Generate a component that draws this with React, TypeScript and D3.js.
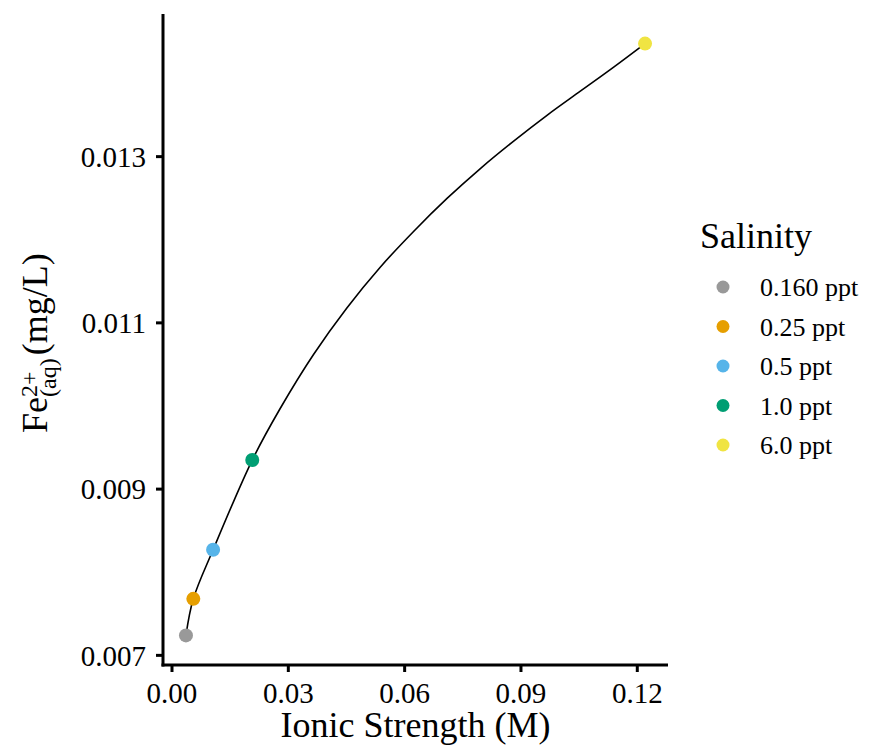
import React from "react";
import * as d3 from "d3";

const salinityLabels = ["0.160 ppt", "0.25 ppt", "0.5 ppt", "1.0 ppt", "6.0 ppt"];
const pointColors = ["#999999", "#E69F00", "#56B4E9", "#009E73", "#F0E442"];
const ionicStrength = [0.0036, 0.0055, 0.0106, 0.0207, 0.122];
const feValues = [0.00724, 0.00768, 0.00827, 0.00935, 0.01436];

const curveI = [0.0036, 0.0055, 0.0106, 0.0207, 0.0279, 0.0365, 0.0451, 0.0537, 0.0623, 0.071, 0.0796, 0.0882, 0.0968, 0.1054, 0.114, 0.122];
const curveFe = [0.00724, 0.00768, 0.00827, 0.00935, 0.00997, 0.01062, 0.01118, 0.01167, 0.0121, 0.0125, 0.01286, 0.01319, 0.0135, 0.01379, 0.01408, 0.01436];

const xTicks = [0, 0.03, 0.06, 0.09, 0.12];
const yTicks = [0.007, 0.009, 0.011, 0.013];

const FONT = "'Liberation Serif', 'Times New Roman', serif";

export default function App() {
  const left = 163, right = 668, top = 14, bottom = 665;
  const [xmin, xmax] = d3.extent(ionicStrength) as [number, number];
  const [ymin, ymax] = d3.extent(feValues) as [number, number];
  const xe = (xmax - xmin) * 0.05;
  const ye = (ymax - ymin) * 0.05;
  const x = d3.scaleLinear().domain([xmin - xe, xmax + xe]).range([left, right]);
  const y = d3.scaleLinear().domain([ymin - ye, ymax + ye]).range([bottom, top]);

  const pts = curveI.map((v, i) => [v, curveFe[i]] as [number, number]);
  const line = d3
    .line<[number, number]>()
    .x((d) => x(d[0]))
    .y((d) => y(d[1]))
    .curve(d3.curveCatmullRom.alpha(0.5));

  const legendX = 723;
  const legendY0 = 287;
  const legendStep = 39.5;

  return (
    <svg width={881} height={746} style={{ position: "absolute", left: 0, top: 0, background: "#fff" }} fontFamily={FONT}>
      <rect width={881} height={746} fill="#fff" />
      {/* curve */}
      <path d={line(pts) || ""} fill="none" stroke="#000" strokeWidth={1.6} />
      {/* points */}
      {ionicStrength.map((v, i) => (
        <circle key={i} cx={x(v)} cy={y(feValues[i])} r={7} fill={pointColors[i]} />
      ))}
      {/* axes */}
      <line x1={left} x2={left} y1={top} y2={bottom + 1.5} stroke="#000" strokeWidth={3} />
      <line x1={left - 1.5} x2={right} y1={bottom} y2={bottom} stroke="#000" strokeWidth={3} />
      {yTicks.map((t) => (
        <g key={t}>
          <line x1={left - 7} x2={left} y1={y(t)} y2={y(t)} stroke="#000" strokeWidth={3} />
          <text x={left - 17} y={y(t)} dy="0.35em" textAnchor="end" fontSize={29} fill="#000">
            {d3.format(".3f")(t)}
          </text>
        </g>
      ))}
      {xTicks.map((t) => (
        <g key={t}>
          <line x1={x(t)} x2={x(t)} y1={bottom} y2={bottom + 7} stroke="#000" strokeWidth={3} />
          <text x={x(t)} y={703} textAnchor="middle" fontSize={29} fill="#000">
            {d3.format(".2f")(t)}
          </text>
        </g>
      ))}
      {/* x title */}
      <text x={(left + right) / 2} y={737} textAnchor="middle" fontSize={36} fill="#000">
        Ionic Strength (M)
      </text>
      {/* y title */}
      <text transform="translate(47,433) rotate(-90)" fontSize={36} fill="#000">
        <tspan>Fe</tspan>
        <tspan fontSize={24} dy={-10}>2+</tspan>
        <tspan fontSize={24} dx={-25.5} dy={19}>(aq)</tspan>
        <tspan fontSize={36} dy={-9} dx={3}>(mg/L)</tspan>
      </text>
      {/* legend */}
      <text x={700} y={248} fontSize={36} fill="#000">Salinity</text>
      {salinityLabels.map((s, i) => (
        <g key={s}>
          <circle cx={legendX} cy={legendY0 + i * legendStep} r={6.5} fill={pointColors[i]} />
          <text x={760} y={legendY0 + i * legendStep} dy="0.35em" fontSize={26} fill="#000">
            {s}
          </text>
        </g>
      ))}
    </svg>
  );
}
